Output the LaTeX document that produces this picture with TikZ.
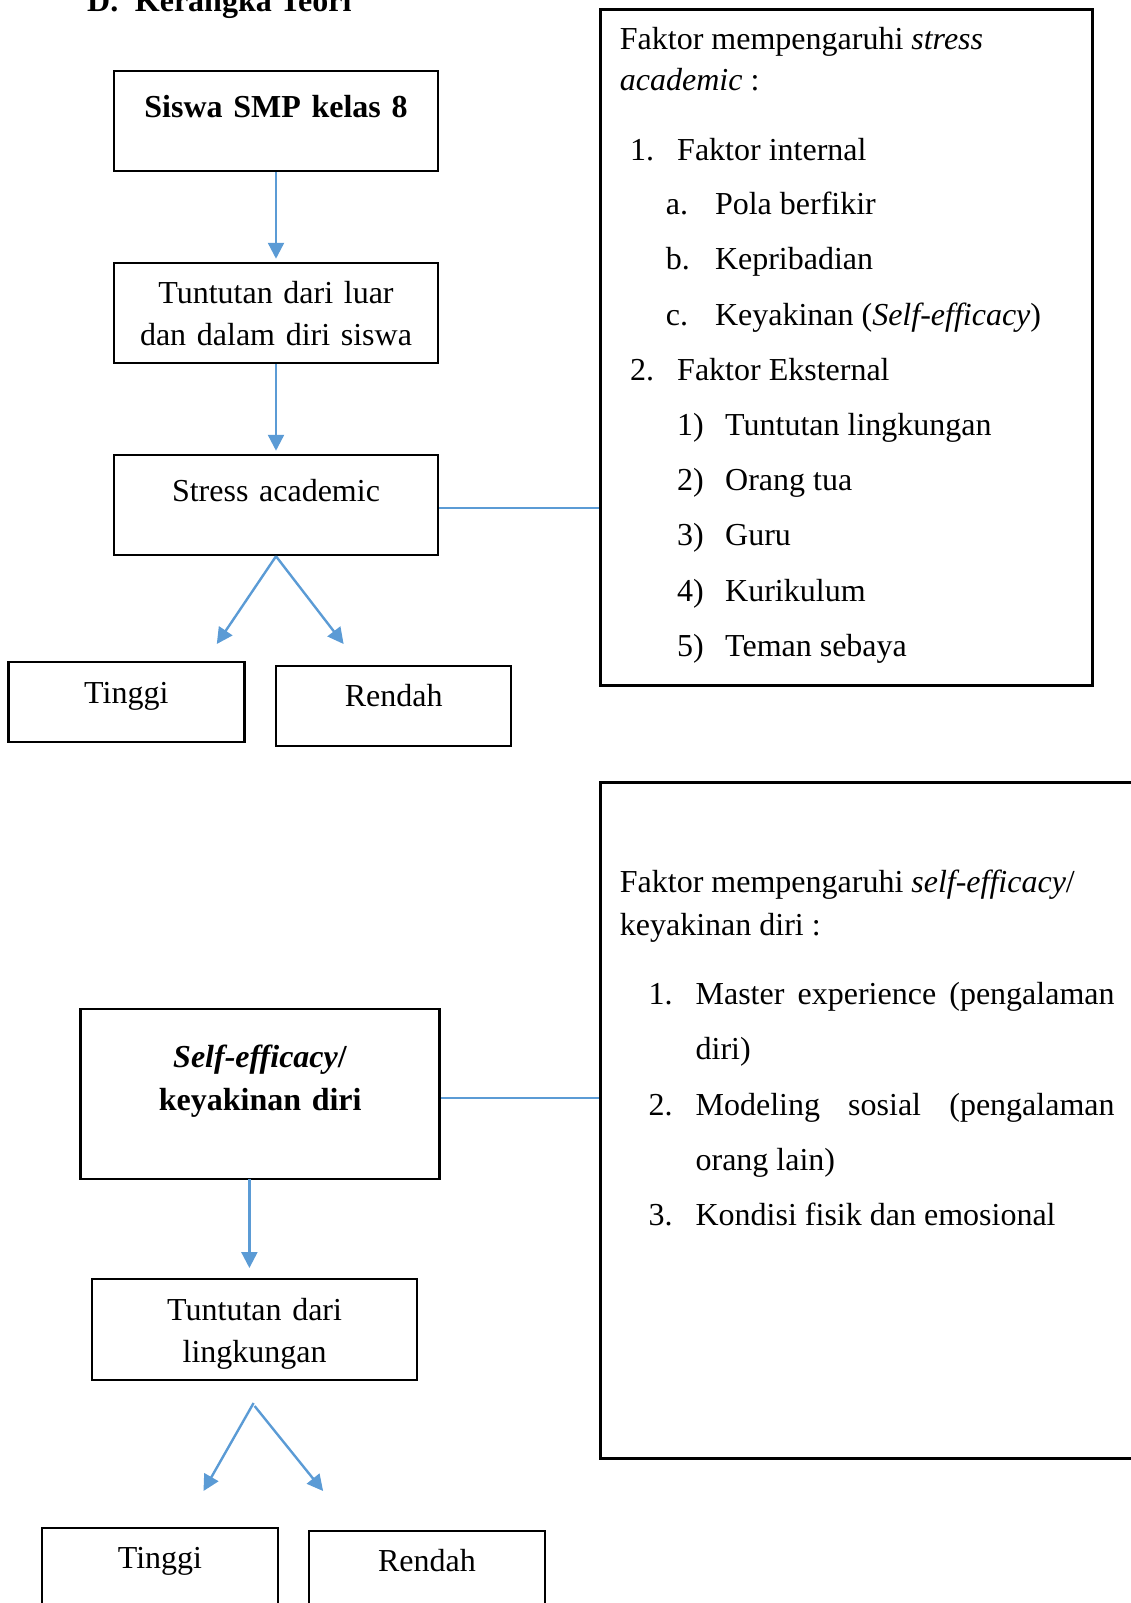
\documentclass[tikz,border=0pt]{standalone}
\usepackage{fontspec}
\setmainfont{Liberation Serif}
\newfontfamily\kotakfont[WordSpace=0.66]{Liberation Serif}
\usepackage{xcolor,tikz}
\usetikzlibrary{arrows.meta,positioning}
\definecolor{biru}{RGB}{91,155,213}
\tikzset{
  huruf/.style={font=\fontsize{32}{42}\selectfont},
  teks/.style={huruf, inner sep=0pt, anchor=base west},
  kotak/.style={font=\kotakfont\fontsize{32}{42}\selectfont, draw, line width=2.5pt, inner xsep=0pt, inner ysep=0pt, align=center, anchor=base},
  panel/.style={draw, line width=2.5pt, inner sep=0pt, anchor=north west},
  panah/.style={draw=biru, line width=2.4pt, -{Triangle[length=16pt,width=16pt]}},
  garis/.style={draw=biru, line width=1.5pt},
}
\begin{document}
\begin{tikzpicture}[x=1pt,y=-1pt]
\useasboundingbox (0,0) rectangle (1131,1603);
% judul
\node[teks] (judulD) at (87,12) {\textbf{D.}};
\node[teks] (judul) at (134.7,12) {\textbf{Kerangka Teori}};
%%%% alur stress academic
\node[kotak, text width=324pt, text height=46pt, text depth=54pt] (siswa) at (276,117) {\textbf{Siswa SMP kelas 8}};
\node[kotak, text width=324pt, text height=40pt, text depth=60pt] (tuntutan) at (276,303) {Tuntutan dari luar\\dan dalam diri siswa};
\node[kotak, text width=324pt, text height=46pt, text depth=54pt] (stres) at (276,501) {Stress academic};
\node[kotak, text width=236pt, text height=41pt, text depth=39pt] (tinggiA) at (126.3,703) {Tinggi};
\node[kotak, text width=235pt, text height=40pt, text depth=40pt] (rendahA) at (393.7,706) {Rendah};
\coordinate (kiriA) at (216.8,644);
\coordinate (kananA) at (343.6,644);
\draw[panah] (siswa.south) -- ([yshift=3pt]tuntutan.north);
\draw[panah] (tuntutan.south) -- ([yshift=3pt]stres.north);
\draw[panah] (stres.south) -- (kiriA);
\draw[panah] (stres.south) -- (kananA);
%%%% faktor stress academic
\node[panel, minimum width=492pt, minimum height=676pt] (faktorA) at (599.2,8.2) {};
\draw[garis] ([yshift=-3pt]stres.east) -- ([yshift=-3pt]stres.east -| faktorA.west);
\node[teks] (fa0) at (619.7,49) {Faktor mempengaruhi \textit{stress}};
\node[teks] (fa1) at (619.7,90) {\textit{academic} :};
\node[teks] (fa2n) at (630,160) {1.};
\node[teks] (fa2) at (677,160) {Faktor internal};
\node[teks] (fa3n) at (665.7,214.5) {a.};
\node[teks] (fa3) at (714.8,214.5) {Pola berfikir};
\node[teks] (fa4n) at (665.7,269.7) {b.};
\node[teks] (fa4) at (714.8,269.7) {Kepribadian};
\node[teks] (fa5n) at (665.7,325) {c.};
\node[teks] (fa5) at (714.8,325) {Keyakinan (\textit{Self-efficacy})};
\node[teks] (fa6n) at (630,380.2) {2.};
\node[teks] (fa6) at (677,380.2) {Faktor Eksternal};
\node[teks] (fa7n) at (677,435.4) {1)};
\node[teks] (fa7) at (725,435.4) {Tuntutan lingkungan};
\node[teks] (fa8n) at (677,490.6) {2)};
\node[teks] (fa8) at (725,490.6) {Orang tua};
\node[teks] (fa9n) at (677,545.8) {3)};
\node[teks] (fa9) at (725,545.8) {Guru};
\node[teks] (fa10n) at (677,601) {4)};
\node[teks] (fa10) at (725,601) {Kurikulum};
\node[teks] (fa11n) at (677,656.3) {5)};
\node[teks] (fa11) at (725,656.3) {Teman sebaya};
%%%% alur self-efficacy
\node[kotak, text width=359pt, text height=58pt, text depth=112pt] (efikasi) at (260.2,1067) {\textbf{\textit{Self-efficacy}/}\\[1pt]\textbf{keyakinan diri}};
\node[kotak, text width=325pt, text height=41pt, text depth=60pt] (tuntutanB) at (254.6,1320) {Tuntutan dari\\lingkungan};
\node[kotak, text width=236pt, text height=40pt, text depth=72pt] (tinggiB) at (160,1568) {Tinggi};
\node[kotak, text width=236pt, text height=40pt, text depth=72pt] (rendahB) at (426.9,1571) {Rendah};
\coordinate (atasB) at (249.4,1179);
\coordinate (ujungB) at (249.4,1268);
\coordinate (pisahB) at (253.6,1403);
\coordinate (kiriB) at (203.5,1491);
\coordinate (kananB) at (323.1,1491);
\draw[panah] (atasB) -- (ujungB);
\draw[panah] (pisahB) -- (kiriB);
\draw[panah] ([xshift=1pt,yshift=-3pt]pisahB) -- (kananB);
%%%% faktor self-efficacy
\node[panel, minimum width=545pt, minimum height=676pt] (faktorB) at (599.2,781.3) {};
\draw[garis] ([yshift=-4pt]efikasi.east) -- ([yshift=-4pt]efikasi.east -| faktorB.west);
\node[teks] (fb0) at (619.7,892.5) {Faktor mempengaruhi \textit{self-efficacy}/};
\node[teks] (fb1) at (619.7,935.5) {keyakinan diri :};
\node[teks] (fb2n) at (648.3,1004) {1.};
\node[teks] (fb2) at (695.4,1004) {\hbox to 419pt{Master\hfill experience\hfill (pengalaman}};
\node[teks] (fb3) at (695.4,1059.2) {diri)};
\node[teks] (fb4n) at (648.3,1115.4) {2.};
\node[teks] (fb4) at (695.4,1115.4) {\hbox to 419pt{Modeling\hfill sosial\hfill (pengalaman}};
\node[teks] (fb5) at (695.4,1170.7) {orang lain)};
\node[teks] (fb6n) at (648.3,1225) {3.};
\node[teks] (fb6) at (695.4,1225) {Kondisi fisik dan emosional};
\end{tikzpicture}
\end{document}
